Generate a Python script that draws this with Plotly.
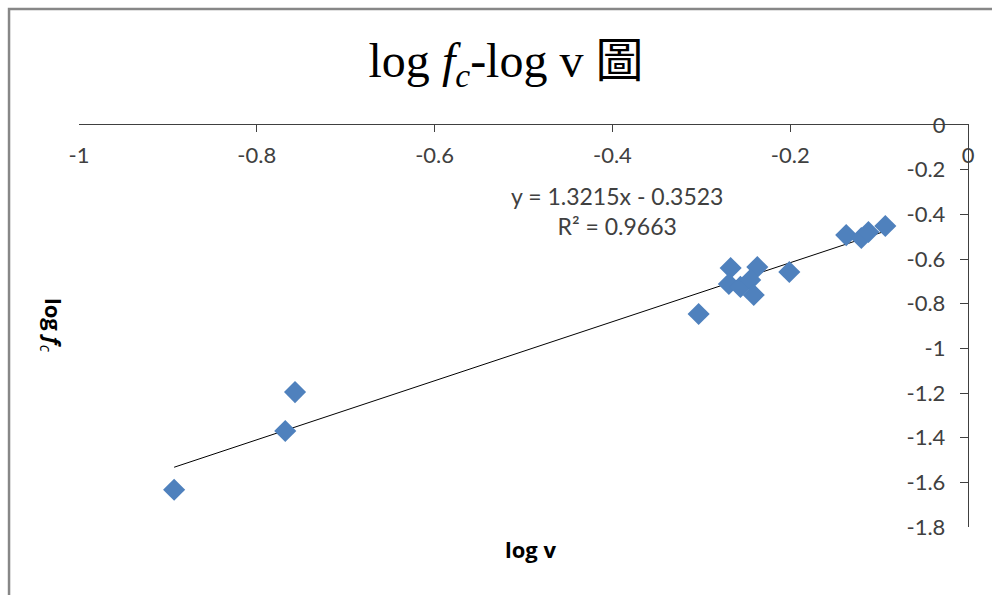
import plotly.graph_objects as go

# data
log_v = [-0.893, -0.768, -0.757, -0.303, -0.267, -0.237, -0.269, -0.256,
         -0.245, -0.241, -0.201, -0.137, -0.120, -0.112, -0.093]
log_fc = [-1.633, -1.370, -1.196, -0.846, -0.640, -0.636, -0.712, -0.725,
          -0.694, -0.761, -0.658, -0.493, -0.506, -0.479, -0.452]

slope = 1.3215
intercept = -0.3523
r2 = 0.9663

x_ticks = [-1, -0.8, -0.6, -0.4, -0.2, 0]
x_ticktext = ["-1", "-0.8", "-0.6", "-0.4", "-0.2", "0"]
y_ticks = [0, -0.2, -0.4, -0.6, -0.8, -1, -1.2, -1.4, -1.6, -1.8]
y_ticktext = ["0", "-0.2", "-0.4", "-0.6", "-0.8", "-1", "-1.2", "-1.4", "-1.6", "-1.8"]

xmin, xmax = min(log_v), max(log_v)
trend_x = [xmin, xmax]
trend_y = [slope * v + intercept for v in trend_x]

TICKFONT = dict(family="Lato, Open Sans, sans-serif", size=22, color="#404040")

fig = go.Figure()
fig.add_trace(go.Scatter(x=trend_x, y=trend_y, mode="lines",
                         line=dict(color="#000000", width=1), showlegend=False,
                         hoverinfo="skip"))
fig.add_trace(go.Scatter(x=log_v, y=log_fc, mode="markers",
                         marker=dict(symbol="diamond", size=17, color="#4F81BD",
                                     line=dict(width=0)),
                         showlegend=False))

fig.update_layout(
    width=992, height=595,
    margin=dict(l=79, r=24, t=125, b=68),
    paper_bgcolor="white", plot_bgcolor="white",
    showlegend=False,
    title=dict(text="log <i>f</i><sub><i>c</i></sub>-log v 圖",
               x=506 / 992, xref="container", xanchor="center",
               y=1 - 60 / 595, yref="container", yanchor="middle",
               font=dict(family="Liberation Serif, Noto Sans CJK TC, serif", size=48, color="#000000")),
    xaxis=dict(range=[-1, 0], side="top", tickvals=x_ticks, ticktext=x_ticktext,
               ticks="inside", ticklen=7, tickcolor="#404040",
               ticklabelposition="inside", ticklabeloverflow="allow",
               ticklabelstandoff=17,
               showline=True, linecolor="#404040", linewidth=1,
               showgrid=False, zeroline=False, tickfont=TICKFONT),
    yaxis=dict(range=[-1.8, 0], side="right", tickvals=y_ticks, ticktext=y_ticktext,
               ticks="inside", ticklen=8, tickcolor="#404040",
               ticklabelposition="inside", ticklabeloverflow="allow",
               ticklabelstandoff=16,
               showline=True, linecolor="#404040", linewidth=1,
               showgrid=False, zeroline=False, tickfont=TICKFONT),
    shapes=[dict(type="rect", xref="paper", yref="paper",
                 x0=-0.0787, x1=1.3, y0=-0.6, y1=1.2886,
                 line=dict(color="#878787", width=2.5), fillcolor="rgba(0,0,0,0)",
                 layer="below")],
    annotations=[
        dict(text=f"y = {slope}x - {abs(intercept)}<br>R² = {r2}",
             xref="paper", yref="paper", x=(617 - 79) / 889, y=1 - (211 - 125) / 402,
             xanchor="center", yanchor="middle", showarrow=False, align="center",
             font=dict(family="Lato, Open Sans, sans-serif", size=23, color="#404040")),
        dict(text="<b>log v</b>", xref="paper", yref="paper",
             x=(530 - 79) / 889, y=-(549 - 527) / 402, xanchor="center", yanchor="middle",
             showarrow=False,
             font=dict(family="Open Sans, Lato, sans-serif", size=22, color="#000000")),
        dict(text="<b>log <i>f</i></b><sub><i>c</i></sub>", xref="paper", yref="paper",
             x=-(79 - 52) / 889, y=1 - (325 - 125) / 402, xanchor="center", yanchor="middle",
             textangle=90, showarrow=False,
             font=dict(family="Open Sans, Lato, sans-serif", size=22, color="#000000")),
    ],
)

fig.write_html("out.html")
